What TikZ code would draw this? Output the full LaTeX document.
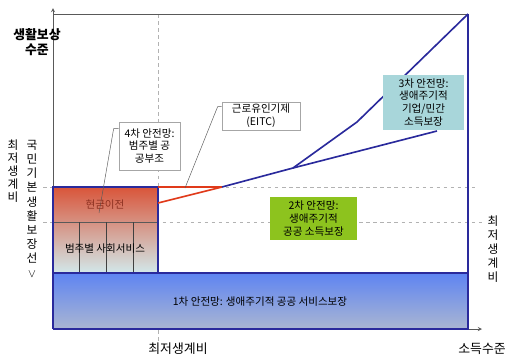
\documentclass[tikz,border=0pt]{standalone}
\usepackage{fontspec}
\setmainfont{Noto Sans CJK KR}
\usepackage{tikz}
\usetikzlibrary{positioning}

\definecolor{navy}{RGB}{42,42,156}
\definecolor{redline}{RGB}{224,58,26}
\definecolor{bluetop}{RGB}{94,132,242}
\definecolor{bluebot}{RGB}{170,182,210}
\definecolor{redtop}{RGB}{217,85,58}
\definecolor{redmid}{RGB}{234,176,166}
\definecolor{redbot}{RGB}{210,232,234}
\definecolor{tealbox}{RGB}{168,214,218}
\definecolor{greenbox}{RGB}{141,195,30}
\definecolor{cashtext}{RGB}{140,48,32}

\begin{document}
\begin{tikzpicture}[x=0.03cm,y=-0.03cm,
  lbl/.style={font=\fontsize{9}{11}\selectfont, align=center, inner sep=1pt},
  callout/.style={lbl, draw=gray!70, fill=white, line width=0.6pt},
  netbox/.style={lbl, inner sep=0pt},
  leader/.style={draw=gray!70!black, line width=0.4pt},
  guide/.style={dashed, draw=gray!60, line width=0.5pt},
  axis/.style={draw=gray!70!black, line width=0.6pt},
  netline/.style={draw=navy, line width=1.4pt},
  redpath/.style={draw=redline, line width=1.4pt},
  vtext/.style={align=center, inner sep=0pt}]

\useasboundingbox (0,0) rectangle (520,361);

% guide lines
\draw[guide] (43,187) -- (478,187);
\draw[guide] (43,222) -- (482,222);
\draw[guide] (158,14) -- (158,342);

% fills
\shade[top color=bluetop, bottom color=bluebot] (53,273) rectangle (468,329);
\shade[top color=redtop, middle color=redmid, bottom color=redbot] (53,187) rectangle (158,273);
\draw[gray!70!black, line width=0.4pt] (53,222) -- (158,222);
\foreach \x in {79,106,133}
  \draw[gray!50!black, line width=0.4pt] (\x,222) -- (\x,273);

% axes
\draw[axis, -stealth] (53,329) -- (53,8);
\draw[axis, -stealth] (53,329) -- (482,329);
\draw[axis] (53,14) -- (468,14);

% outlines
\draw[netline] (53,329) -- (53,187) -- (158,187) -- (158,273);
\draw[netline] (53,273) -- (468,273);
\draw[netline] (53,329) -- (468,329) -- (468,14);

% income lines
\coordinate (kink) at (222,187);
\coordinate (split) at (293,168);
\draw[redpath] (158,187) -- (kink);
\draw[redpath] (158,203) -- (kink);
\draw[netline] (kink) -- (split) -- (357,122) -- (468,14);
\draw[netline] (split) -- (437,131);

% boxes
\node[netbox, fill=tealbox, minimum width=2.43cm, minimum height=1.65cm] (third) at (423.5,102.5)
  {3차 안전망:\\생애주기적\\기업/민간\\소득보장};
\node[netbox, fill=greenbox, minimum width=2.6cm, minimum height=1.3cm] (second) at (313.5,218.5)
  {2차 안전망:\\생애주기적\\공공 소득보장};
\node[callout, minimum width=1.83cm, minimum height=1.44cm] (fourth) at (149.5,146)
  {4차 안전망:\\범주별 공\\공부조};
\node[callout, minimum width=2.34cm, minimum height=0.84cm] (eitc) at (261,116)
  {근로유인기제\\(EITC)};

% leaders
\coordinate (cashpt) at (99,213);
\coordinate (eitcpt) at (185,188);
\draw[leader] (fourth.north west) ++(0,7) -- ++(-5,0) -- (cashpt);
\draw[leader] (eitc.north west) ++(0,5) -- ++(-4,0) -- (eitcpt);

% inner labels
\node[lbl, text=cashtext] (cash) at (105,205) {현금이전};
\node[lbl] (service) at (105,249) {범주별 사회서비스};
\node[lbl] (first) at (260,302) {1차 안전망: 생애주기적 공공 서비스보장};

% axis labels
\node[font=\fontsize{11}{13}\selectfont\bfseries, align=center, inner sep=0pt] (ylab) at (37,42) {생활보상\\수준};
\node[font=\fontsize{11}{13}\selectfont, inner sep=0pt] (xmin) at (178,349) {최저생계비};
\node[font=\fontsize{11}{13}\selectfont, inner sep=0pt] (xlab) at (482,349) {소득수준};
\node[vtext, font=\fontsize{10}{10.9}\selectfont, anchor=north] (minleft) at (13,140) {최\\저\\생\\계\\비};
\node[vtext, font=\fontsize{10}{12.1}\selectfont, anchor=north] (basic) at (32,140) {국\\민\\기\\본\\생\\활\\보\\장\\선\\$\vee$};
\node[vtext, font=\fontsize{10}{11.9}\selectfont, anchor=north] (minright) at (493,216) {최\\저\\생\\계\\비};
\end{tikzpicture}
\end{document}
